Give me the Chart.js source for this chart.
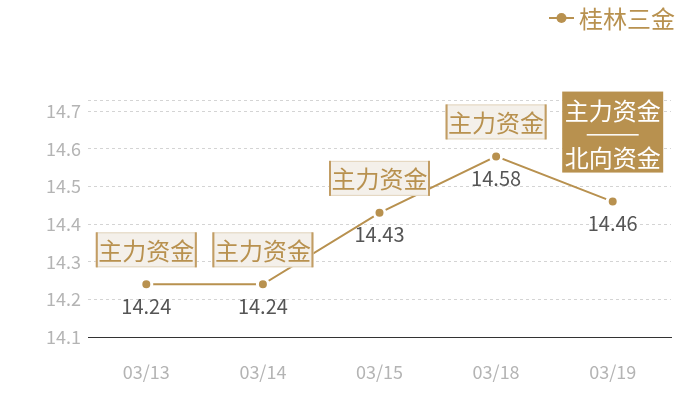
<!DOCTYPE html>
<html>
<head>
<meta charset="utf-8">
<script src="https://cdn.jsdelivr.net/npm/chart.js@4.4.1/dist/chart.umd.min.js"></script>
<style>
html,body{margin:0;padding:0;background:#fff;}
#wrap{width:700px;height:400px;position:relative;}
</style>
</head>
<body>
<div id="wrap"><canvas id="lineChart"></canvas></div>
<script>
//Chart data
var dates = ['03/13','03/14','03/15','03/18','03/19'];
var prices = [14.24,14.24,14.43,14.58,14.46];
var seriesName = '桂林三金';
var tags = [['主力资金'],['主力资金'],['主力资金'],['主力资金'],['主力资金','北向资金']];
var yTicks = [14.1,14.2,14.3,14.4,14.5,14.6,14.7];
var yMin = 14.1;
var yMax = 14.73;

//Styles
var gold = '#b8914f';
var fontCJK = "'Noto Sans CJK SC', 'Noto Sans', sans-serif";

//Draws the value labels, the tag boxes and the legend
var tagPlugin = {
  id: 'tags',
  afterDatasetsDraw: function(chart){
    var ctx = chart.ctx;
    var pts = chart.getDatasetMeta(0).data;
    ctx.save();
    ctx.textAlign = 'center';
    ctx.textBaseline = 'middle';
    for(var i = 0; i < pts.length; i++){
      var p = pts[i];
      //value under the point
      ctx.font = '20px ' + fontCJK;
      ctx.fillStyle = '#555';
      ctx.fillText(prices[i].toFixed(2), p.x, p.y + 22);

      var lines = tags[i];
      var w = 101;
      var left = p.x - w/2;
      ctx.font = '24px ' + fontCJK;
      if(lines.length == 1){
        var h = 35;
        var top = p.y - 17 - h;
        ctx.fillStyle = '#f4f0ea';
        ctx.fillRect(left, top, w, h);
        ctx.strokeStyle = '#e2d4bc';
        ctx.lineWidth = 1;
        ctx.strokeRect(left + 0.5, top + 0.5, w - 1, h - 1);
        ctx.fillStyle = '#c29d64';
        ctx.fillRect(left, top, 2, h);
        ctx.fillRect(left + w - 2, top, 2, h);
        ctx.fillStyle = gold;
        ctx.fillText(lines[0], p.x, top + h/2 + 1);
      } else {
        var h2 = 81;
        var top2 = p.y - 29 - h2;
        ctx.fillStyle = gold;
        ctx.fillRect(left, top2, w, h2);
        ctx.fillStyle = '#fff';
        ctx.fillText(lines[0], p.x, top2 + 19);
        ctx.fillRect(p.x - 26, top2 + 42.5, 52, 1.5);
        ctx.fillText(lines[1], p.x, top2 + 66);
      }
    }
    ctx.restore();
  },
  afterDraw: function(chart){
    var ctx = chart.ctx;
    ctx.save();
    ctx.strokeStyle = gold;
    ctx.lineWidth = 2;
    ctx.beginPath();
    ctx.moveTo(549, 18);
    ctx.lineTo(574, 18);
    ctx.stroke();
    ctx.fillStyle = gold;
    ctx.beginPath();
    ctx.arc(561.5, 18, 5, 0, Math.PI*2);
    ctx.fill();
    ctx.font = '24px ' + fontCJK;
    ctx.textAlign = 'left';
    ctx.textBaseline = 'middle';
    ctx.fillText(seriesName, 579, 19);
    ctx.restore();
  }
};

function initChart(){
  var ctxL = document.getElementById('lineChart').getContext('2d');
  var myLineChart = new Chart(ctxL, {
    type: 'line',
    data: {
      labels: dates,
      datasets: [{
        label: seriesName,
        data: prices,
        borderColor: gold,
        borderWidth: 2,
        pointBackgroundColor: gold,
        pointBorderColor: '#fff',
        pointBorderWidth: 3,
        pointRadius: 5.5,
        pointHoverRadius: 5.5,
        tension: 0
      }]
    },
    options: {
      responsive: true,
      maintainAspectRatio: false,
      animation: false,
      layout: { padding: { top: 100, right: 29, left: 0, bottom: 0 } },
      plugins: {
        legend: { display: false },
        tooltip: { enabled: false }
      },
      scales: {
        x: {
          offset: true,
          grid: { display: false, drawTicks: false },
          border: { display: true, color: '#333', width: 1 },
          ticks: {
            color: '#b4b4b4',
            padding: 24,
            font: { family: fontCJK, size: 18 }
          },
          afterFit: function(scale){ scale.height = 63; }
        },
        y: {
          min: yMin,
          max: yMax,
          grid: { color: '#d4d4d4', drawTicks: false, lineWidth: 1 },
          border: { display: false, dash: [3, 3] },
          ticks: {
            color: '#b4b4b4',
            padding: 7,
            font: { family: fontCJK, size: 18 },
            callback: function(v){ return yTicks.indexOf(v) >= 0 ? v.toFixed(1) : ''; }
          },
          afterBuildTicks: function(scale){
            scale.ticks = yTicks.map(function(v){ return { value: v }; }).concat([{ value: yMax }]);
          },
          afterFit: function(scale){ scale.width = 88; }
        }
      }
    },
    plugins: [tagPlugin]
  });
}

window.onload = initChart;
</script>
</body>
</html>
